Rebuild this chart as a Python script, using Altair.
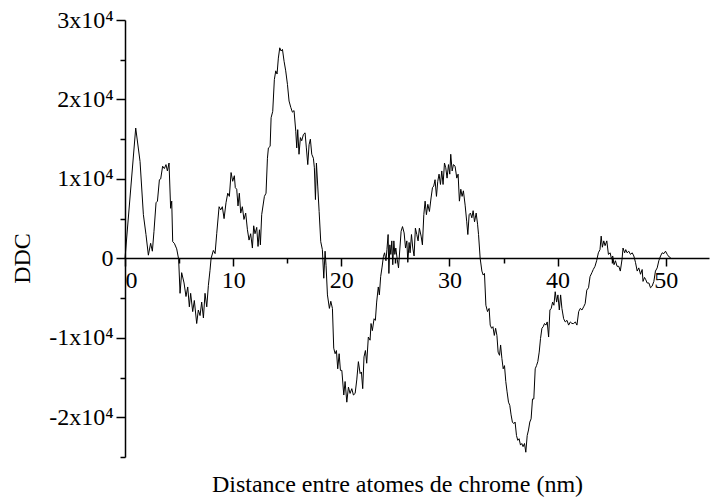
import altair as alt
import pandas as pd

# Distance between chromium atoms (nm)
distance = [
    0, 0.99, 1.39, 1.70, 1.94, 2.16, 2.37, 2.53, 2.68, 2.87, 3.0, 3.18, 3.3, 3.48, 3.64, 3.79, 3.92, 4.07,
    4.22, 4.32, 4.41, 4.56, 4.78, 4.96, 5.09, 5.24, 5.46, 5.64, 5.80, 5.95, 6.07, 6.26, 6.41, 6.63, 6.78,
    6.94, 7.09, 7.25, 7.40, 7.56, 7.71, 7.86, 7.96, 8.17, 8.33, 8.48, 8.70, 8.85, 9.0, 9.16, 9.34, 9.50,
    9.65, 9.81, 9.96, 10.11, 10.2, 10.33, 10.45, 10.57, 10.70, 10.85, 11.0, 11.16, 11.32, 11.47, 11.62,
    11.78, 11.90, 12.02, 12.18, 12.30, 12.43, 12.52, 12.64, 12.89, 13.04, 13.17, 13.26, 13.42, 13.51,
    13.66, 13.81, 13.94, 14.06, 14.18, 14.31, 14.43, 14.56, 14.71, 14.86, 15.02, 15.17, 15.33, 15.48,
    15.63, 15.79, 15.88, 15.97, 16.09, 16.22, 16.34, 16.50, 16.65, 16.77, 16.90, 17.02, 17.14, 17.27,
    17.42, 17.51, 17.61, 17.70, 17.82, 17.95, 18.1, 18.25, 18.38, 18.5, 18.59, 18.72, 18.9, 19.03,
    19.18, 19.30, 19.43, 19.55, 19.67, 19.80, 19.92, 20.05, 20.23, 20.35, 20.51, 20.66, 20.81, 20.97,
    21.12, 21.28, 21.43, 21.58, 21.74, 21.86, 21.98, 22.1, 22.23, 22.35, 22.5, 22.66, 22.75, 22.87,
    23.03, 23.15, 23.27, 23.42, 23.52, 23.64, 23.77, 23.89, 24.0, 24.13, 24.22, 24.33, 24.4, 24.49,
    24.58, 24.67, 24.76, 24.86, 24.95, 25.04, 25.17, 25.29, 25.42, 25.53, 25.66, 25.81, 25.94, 26.06,
    26.15, 26.27, 26.36, 26.49, 26.61, 26.73, 26.85, 26.98, 27.1, 27.22, 27.38, 27.5, 27.63, 27.75,
    27.87, 28.0, 28.15, 28.3, 28.43, 28.55, 28.67, 28.8, 28.92, 29.04, 29.17, 29.29, 29.41, 29.54,
    29.66, 29.78, 29.91, 30.03, 30.12, 30.25, 30.37, 30.52, 30.68, 30.8, 30.92, 31.05, 31.17, 31.29,
    31.45, 31.6, 31.7, 31.82, 31.94, 32.07, 32.19, 32.32, 32.47, 32.6, 32.69, 32.84, 33.0, 33.12,
    33.24, 33.37, 33.52, 33.67, 33.77, 33.9, 34.02, 34.15, 34.27, 34.39, 34.5, 34.63, 34.73, 34.85,
    34.97, 35.09, 35.21, 35.33, 35.46, 35.58, 35.7, 35.82, 35.95, 36.07, 36.2, 36.32, 36.44, 36.57,
    36.69, 36.81, 36.94, 37.06, 37.19, 37.31, 37.43, 37.55, 37.68, 37.8, 37.93, 38.05, 38.17, 38.3,
    38.42, 38.55, 38.67, 38.79, 38.92, 39.04, 39.17, 39.29, 39.41, 39.54, 39.66, 39.78, 39.91, 40.03,
    40.16, 40.28, 40.4, 40.56, 40.71, 40.87, 41.02, 41.18, 41.33, 41.48, 41.64, 41.79, 41.95, 42.1,
    42.25, 42.41, 42.55, 42.7, 42.86, 43.0, 43.17, 43.3, 43.46, 43.61, 43.77, 43.92, 44.03, 44.14,
    44.27, 44.39, 44.55, 44.7, 44.86, 44.99, 45.1, 45.22, 45.35, 45.5, 45.66, 45.8, 45.96, 46.05,
    46.2, 46.3, 46.43, 46.58, 46.74, 46.9, 47.05, 47.2, 47.36, 47.51, 47.67, 47.82, 47.9, 48.04,
    48.16, 48.28, 48.44, 48.59, 48.74, 48.9, 49.05, 49.21, 49.36, 49.52, 49.67, 49.83, 49.98, 50.14,
    50.29, 50.45,
]

# DDC values in units of 1e4
ddc_1e4 = [
    0, 1.64, 1.22, 0.55, 0.30, 0.04, 0.19, 0.09, 0.34, 0.70, 0.72, 0.99, 1.0, 1.16, 1.13, 1.18, 1.10, 1.20,
    0.63, 0.72, 0.21, 0.19, 0.12, -0.01, -0.44, -0.18, -0.31, -0.48, -0.36, -0.61, -0.44, -0.67, -0.53,
    -0.82, -0.65, -0.72, -0.55, -0.75, -0.44, -0.61, -0.34, -0.15, 0, 0.10, 0.06, 0.31, 0.65, 0.61, 0.65,
    0.50, 0.70, 0.82, 0.78, 1.08, 0.97, 1.04, 0.89, 0.87, 0.66, 0.82, 0.57, 0.65, 0.49, 0.57, 0.36, 0.23,
    0.31, 0.13, 0.41, 0.31, 0.39, 0.15, 0.36, 0.17, 0.55, 0.78, 0.82, 1.26, 1.39, 1.41, 1.77, 1.85, 2.25,
    2.36, 2.32, 2.52, 2.65, 2.61, 2.63, 2.48, 2.36, 2.19, 1.98, 1.90, 1.84, 1.86, 1.60, 1.39, 1.62, 1.31,
    1.52, 1.48, 1.56, 1.58, 1.39, 1.18, 1.43, 1.50, 1.31, 1.26, 1.14, 0.74, 1.20, 0.91, 0.59, 0.21, 0.11,
    -0.25, 0.09, -0.09, -0.46, -0.63, -0.54, -0.63, -1.13, -1.20, -1.16, -1.39, -1.20, -1.41, -1.41,
    -1.72, -1.55, -1.81, -1.62, -1.70, -1.64, -1.72, -1.70, -1.53, -1.30, -1.45, -1.43, -1.64, -1.24,
    -1.16, -1.32, -0.99, -1.03, -0.82, -0.91, -0.76, -0.78, -0.55, -0.36, -0.46, -0.23, -0.11, 0.02,
    0.07, -0.03, 0.11, 0.30, -0.19, 0.17, 0.05, 0.22, -0.08, 0.22, 0.05, 0.13, -0.01, -0.12, 0.13, 0.34,
    0.40, 0.32, 0.13, 0.22, -0.05, 0.20, 0.07, 0.30, 0.13, 0.03, 0.38, 0.30, 0.22, 0.38, 0.28, 0.17,
    0.55, 0.72, 0.55, 0.68, 0.59, 0.76, 0.89, 0.91, 0.99, 0.78, 0.97, 1.06, 0.93, 1.10, 0.93, 1.20,
    1.14, 1.01, 1.18, 1.06, 1.31, 1.10, 1.18, 1.16, 1.01, 1.06, 0.72, 0.87, 0.78, 0.85, 0.67, 0.46,
    0.30, 0.55, 0.57, 0.51, 0.60, 0.46, 0.57, 0.43, 0.30, 0.0, -0.16, -0.21, -0.19, -0.59, -0.67, -0.63,
    -0.84, -0.88, -0.86, -0.97, -0.88, -0.97, -1.18, -1.22, -1.09, -1.26, -1.39, -1.35, -1.55, -1.68,
    -1.81, -1.85, -1.97, -2.06, -2.08, -2.06, -2.23, -2.29, -2.27, -2.35, -2.33, -2.37, -2.33, -2.44,
    -2.23, -2.16, -2.06, -2.02, -1.77, -1.77, -1.39, -1.35, -1.30, -1.18, -1.01, -0.88, -0.86, -0.82,
    -0.84, -0.80, -0.99, -0.65, -0.63, -0.55, -0.59, -0.42, -0.55, -0.46, -0.65, -0.46, -0.63, -0.76,
    -0.80, -0.78, -0.84, -0.80, -0.82, -0.82, -0.80, -0.84, -0.67, -0.63, -0.65, -0.61, -0.57, -0.40,
    -0.37, -0.23, -0.18, -0.14, -0.10, -0.03, 0.07, 0.11, 0.28, 0.14, 0.22, 0.16, 0.22, 0.05, 0.07,
    -0.01, 0.03, -0.08, -0.03, -0.10, -0.10, -0.16, -0.01, 0.13, 0.07, 0.11, 0.07, 0.09, 0.05, 0.07,
    0.03, -0.05, -0.16, -0.12, -0.20, -0.14, -0.29, -0.24, -0.27, -0.31, -0.31, -0.37, -0.35, -0.29,
    -0.16, -0.12, -0.03, 0.03, 0.07, 0.06, 0.09, 0.05, 0.02, 0.01,
]

x_ticks = [0, 5, 10, 15, 20, 25, 30, 35, 40, 45, 50]
y_ticks = [-25000, -20000, -15000, -10000, -5000, 0, 5000, 10000, 15000, 20000, 25000, 30000]

df = pd.DataFrame({"d": distance, "ddc": [v * 10000 for v in ddc_1e4]})

FONT = "Liberation Serif"
FS = 24

x_axis = alt.Axis(
    orient="bottom",
    offset=-199,
    values=x_ticks,
    labelExpr="datum.value % 10 == 0 ? datum.label : ''",
    tickSize={"condition": {"test": "datum.value % 10 != 0", "value": 5}, "value": 8},
    tickColor="black",
    tickWidth=1.5,
    domainColor="black",
    domainWidth=1.5,
    labelFont=FONT,
    labelFontSize=FS,
    labelColor="black",
    labelPadding=2,
    labelOverlap=False,
    grid=False,
    title="Distance entre atomes de chrome (nm)",
    titleFont=FONT,
    titleFontSize=FS,
    titleFontWeight="normal",
    titleColor="black",
    titleX=272,
    titleY=233,
    titleAlign="center",
    titleBaseline="alphabetic",
)

y_axis = alt.Axis(
    orient="left",
    values=y_ticks,
    labelExpr="datum.value % 10000 != 0 ? '' : (datum.value == 0 ? '0' : (datum.value < 0 ? '-' : '') + abs(datum.value / 10000) + 'x10\u2074')",
    tickSize={"condition": {"test": "datum.value % 10000 != 0", "value": 5}, "value": 9},
    tickColor="black",
    tickWidth=1.5,
    domainColor="black",
    domainWidth=1.5,
    labelFont=FONT,
    labelFontSize=FS,
    labelColor="black",
    labelPadding=3,
    labelOverlap=False,
    grid=False,
    title="DDC",
    titleFont=FONT,
    titleFontSize=FS,
    titleFontWeight="normal",
    titleColor="black",
    titleAngle=270,
    titleX=-96,
    titleY=238,
    titleAlign="center",
    titleBaseline="alphabetic",
)

chart = (
    alt.Chart(df)
    .mark_line(color="black", strokeWidth=1)
    .encode(
        x=alt.X("d:Q", scale=alt.Scale(domain=[0, 54], nice=False, zero=False), axis=x_axis),
        y=alt.Y("ddc:Q", scale=alt.Scale(domain=[-25000, 30000], nice=False, zero=False), axis=y_axis),
        order="d:Q",
    )
    .properties(
        width=584,
        height=437,
        autosize=alt.AutoSizeParams(type="none"),
        padding={"left": 125, "top": 20, "right": 3, "bottom": 43},
        background="white",
    )
    .configure_view(stroke=None)
)

chart.save("out.html", embed_options={"renderer": "svg", "actions": False})
